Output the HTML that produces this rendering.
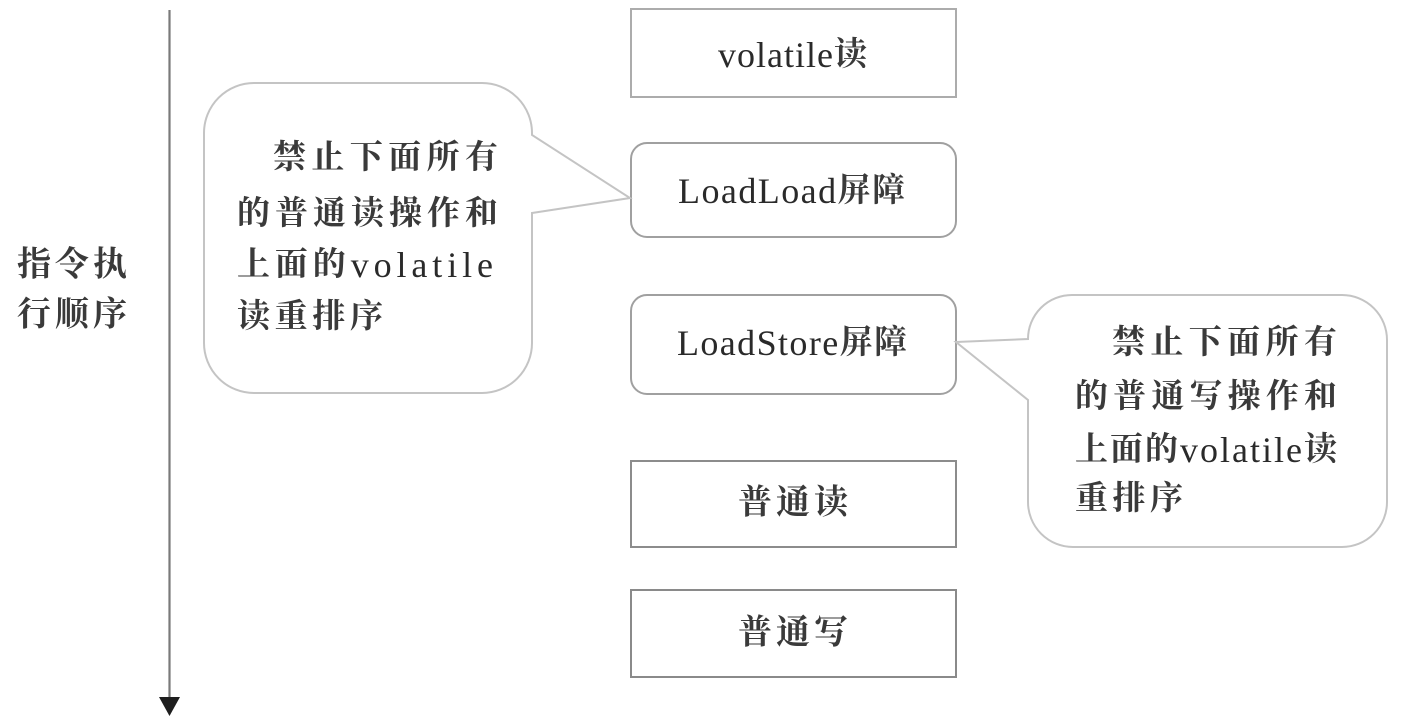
<!DOCTYPE html>
<html>
<head>
<meta charset="utf-8">
<style>
  html, body { margin: 0; padding: 0; background: #ffffff; }
  body { width: 1408px; height: 716px; overflow: hidden; }
  svg { display: block; }
  .cjk { font-family: "Liberation Serif", "Noto Serif CJK SC", serif; font-weight: bold; fill: #3a3a3a; }
  .lat { font-family: "Liberation Serif", serif; font-weight: normal; fill: #2a2a2a; font-size: 36px; }
</style>
</head>
<body>
<svg width="1408" height="716" viewBox="0 0 1408 716" xmlns="http://www.w3.org/2000/svg">
  <rect x="0" y="0" width="1408" height="716" fill="#ffffff"/>

  <!-- timeline arrow -->
  <line x1="169.5" y1="10" x2="169.5" y2="699" stroke="#7a7a7a" stroke-width="2.2"/>
  <polygon points="159,697 180,697 169.5,716" fill="#1e1e1e"/>

  <!-- left label -->
  <text class="cjk" x="17" y="265" font-size="34" dominant-baseline="central" textLength="110" lengthAdjust="spacing">指令执</text>
  <text class="cjk" x="17" y="315" font-size="34" dominant-baseline="central" textLength="110" lengthAdjust="spacing">行顺序</text>

  <!-- boxes -->
  <rect x="631" y="9" width="325" height="88" fill="#fff" stroke="#acacac" stroke-width="2"/>
  <rect x="631" y="143" width="325" height="94" rx="16" ry="16" fill="#fff" stroke="#a0a0a0" stroke-width="2"/>
  <rect x="631" y="295" width="325" height="99" rx="16" ry="16" fill="#fff" stroke="#a0a0a0" stroke-width="2"/>
  <rect x="631" y="461" width="325" height="86" fill="#fff" stroke="#8c8c8c" stroke-width="2"/>
  <rect x="631" y="590" width="325" height="87" fill="#fff" stroke="#8a8a8a" stroke-width="2"/>

  <!-- box labels -->
  <text x="718" y="55" font-size="33" dominant-baseline="central" textLength="149" lengthAdjust="spacing"><tspan class="lat">volatile</tspan><tspan class="cjk">读</tspan></text>
  <text x="678" y="191" font-size="33" dominant-baseline="central" textLength="227" lengthAdjust="spacing"><tspan class="lat">LoadLoad</tspan><tspan class="cjk">屏障</tspan></text>
  <text x="677" y="343" font-size="33" dominant-baseline="central" textLength="230" lengthAdjust="spacing"><tspan class="lat">LoadStore</tspan><tspan class="cjk">屏障</tspan></text>
  <text class="cjk" x="738" y="503" font-size="34" dominant-baseline="central" textLength="110" lengthAdjust="spacing">普通读</text>
  <text class="cjk" x="738" y="633" font-size="34" dominant-baseline="central" textLength="110" lengthAdjust="spacing">普通写</text>

  <!-- left callout bubble -->
  <path d="M254,83 H482 A50,50 0 0 1 532,133 L532,135 L630,198 L532,213 V343 A50,50 0 0 1 482,393 H254 A50,50 0 0 1 204,343 V133 A50,50 0 0 1 254,83 Z"
        fill="#ffffff" stroke="#c4c4c4" stroke-width="2"/>
  <text class="cjk" x="273" y="158" font-size="33" dominant-baseline="central" textLength="225" lengthAdjust="spacing">禁止下面所有</text>
  <text class="cjk" x="237" y="214" font-size="33" dominant-baseline="central" textLength="261" lengthAdjust="spacing">的普通读操作和</text>
  <text x="237" y="265" font-size="33" dominant-baseline="central" textLength="256" lengthAdjust="spacing"><tspan class="cjk">上面的</tspan><tspan class="lat">volatile</tspan></text>
  <text class="cjk" x="237" y="317" font-size="33" dominant-baseline="central" textLength="146" lengthAdjust="spacing">读重排序</text>

  <!-- right callout bubble -->
  <path d="M1072,295 H1342 A45,45 0 0 1 1387,340 V502 A45,45 0 0 1 1342,547 H1073 A45,45 0 0 1 1028,502 V400 L956,342 L1028,339 A44,44 0 0 1 1072,295 Z"
        fill="#ffffff" stroke="#c4c4c4" stroke-width="2"/>
  <text class="cjk" x="1112" y="343" font-size="33" dominant-baseline="central" textLength="225" lengthAdjust="spacing">禁止下面所有</text>
  <text class="cjk" x="1075" y="397" font-size="33" dominant-baseline="central" textLength="262" lengthAdjust="spacing">的普通写操作和</text>
  <text x="1075" y="450" font-size="33" dominant-baseline="central" textLength="262" lengthAdjust="spacing"><tspan class="cjk">上面的</tspan><tspan class="lat">volatile</tspan><tspan class="cjk">读</tspan></text>
  <text class="cjk" x="1075" y="499" font-size="33" dominant-baseline="central" textLength="108" lengthAdjust="spacing">重排序</text>
</svg>
</body>
</html>
